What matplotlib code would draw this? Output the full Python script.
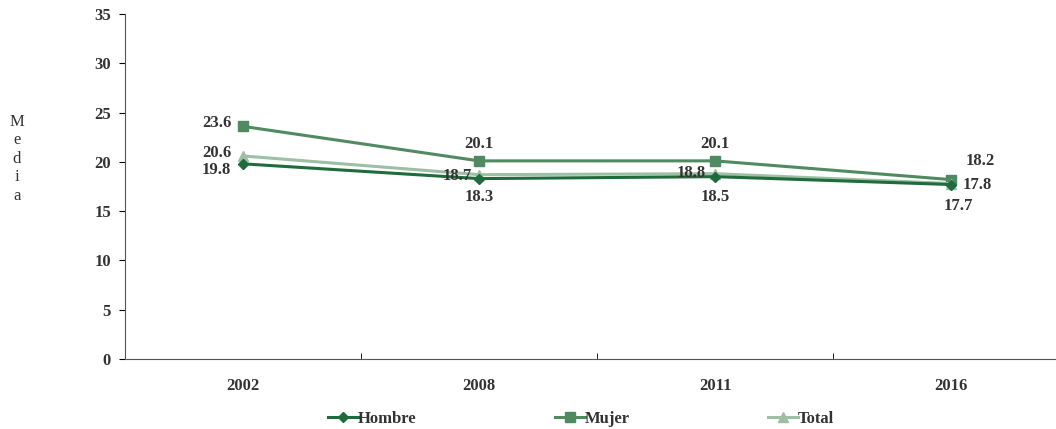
import matplotlib.pyplot as plt

years = ['2002', '2008', '2011', '2016']
hombre = [19.8, 18.3, 18.5, 17.7]
mujer = [23.6, 20.1, 20.1, 18.2]
total = [20.6, 18.7, 18.8, 17.8]

plt.rcParams['font.family'] = ['Liberation Serif', 'DejaVu Serif']

fig = plt.figure(figsize=(10.56, 4.29), dpi=100)
ax = fig.add_axes([125 / 1056, 70 / 429, 944 / 1056, 345 / 429])

x = list(range(len(years)))
c_h = '#1e6b3b'
c_m = '#4f8a60'
c_t = '#9dbfa4'

ax.plot(x, hombre, color=c_h, marker='D', markersize=5, lw=2.2, label='Hombre', zorder=3)
ax.plot(x, mujer, color=c_m, marker='s', markersize=7, lw=2.2, label='Mujer', zorder=2)
ax.plot(x, total, color=c_t, marker='^', markersize=7, lw=2.2, label='Total', zorder=2)

lab = dict(fontsize=12, fontweight='bold', color='#333333')
# 2002
ax.text(-0.05, mujer[0] + 0.3, f'{mujer[0]}', ha='right', va='center', **lab)
ax.text(-0.05, total[0] + 0.3, f'{total[0]}', ha='right', va='center', **lab)
ax.text(-0.05, hombre[0] - 0.6, f'{hombre[0]}', ha='right', va='center', **lab)
# 2008
ax.text(1, mujer[1] + 1.7, f'{mujer[1]}', ha='center', va='center', **lab)
ax.text(0.97, total[1] - 0.1, f'{total[1]}', ha='right', va='center', **lab)
ax.text(1, hombre[1] - 1.9, f'{hombre[1]}', ha='center', va='center', **lab)
# 2011
ax.text(2, mujer[2] + 1.7, f'{mujer[2]}', ha='center', va='center', **lab)
ax.text(1.96, total[2] + 0.1, f'{total[2]}', ha='right', va='center', **lab)
ax.text(2, hombre[2] - 2.1, f'{hombre[2]}', ha='center', va='center', **lab)
# 2016
ax.text(3.06, mujer[3] + 1.9, f'{mujer[3]}', ha='left', va='center', **lab)
ax.text(3.05, total[3] - 0.1, f'{total[3]}', ha='left', va='center', **lab)
ax.text(3.03, hombre[3] - 2.2, f'{hombre[3]}', ha='center', va='center', **lab)

ax.set_xlim(-0.5, 3.5)
ax.set_ylim(0, 35)
ax.set_yticks(range(0, 36, 5))
ax.set_xticks(x)
ax.set_xticklabels(years)
ax.set_xticks([0.5, 1.5, 2.5], minor=True)
ax.tick_params(axis='x', which='major', length=0, pad=14)
ax.tick_params(axis='x', which='minor', length=4, direction='in')
ax.tick_params(axis='y', length=4, direction='out', pad=6)
for t in ax.get_xticklabels() + ax.get_yticklabels():
    t.set_fontweight('bold')
    t.set_fontsize(12)
    t.set_color('#333333')

for s in ['top', 'right']:
    ax.spines[s].set_visible(False)
for s in ['left', 'bottom']:
    ax.spines[s].set_color('#555555')

fig.text(17 / 1056, 1 - 114 / 429, 'M\ne\nd\ni\na', ha='center', va='top',
         fontsize=12, color='#333333', linespacing=1.2)

leg = fig.legend(loc='center', bbox_to_anchor=(581 / 1056, 1 - 419 / 429), ncol=3,
                 frameon=False, columnspacing=8.3, handlelength=1.8, handletextpad=0.0,
                 prop={'weight': 'bold', 'size': 12})
for t in leg.get_texts():
    t.set_color('#333333')

fig.savefig('out.png', dpi=100)
